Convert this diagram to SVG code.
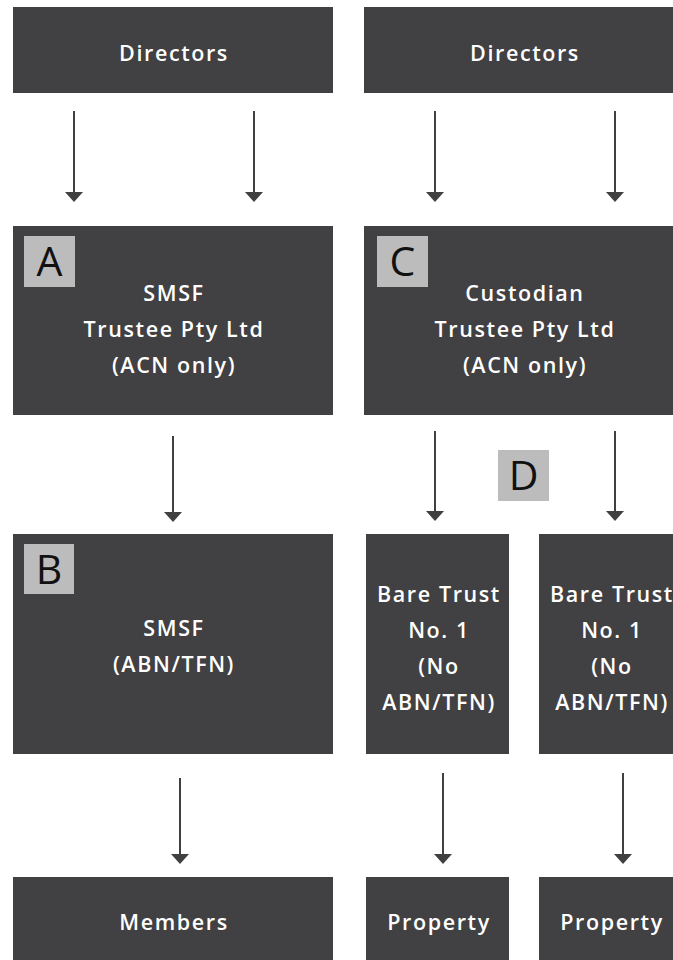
<svg xmlns="http://www.w3.org/2000/svg" width="673" height="960" viewBox="0 0 673 960">
<style>
.box{fill:#414042}
.t{font-family:"Open Sans","Liberation Sans",sans-serif;font-size:21.5px;font-weight:600;letter-spacing:1.6px;fill:#ffffff;text-anchor:middle}
.tag{fill:#bcbcbd}
.tl{font-family:"Open Sans","Liberation Sans",sans-serif;font-size:41px;font-weight:500;fill:#111111;text-anchor:middle}
.c{stroke:#404040;stroke-width:2;fill:none}
</style>
<rect width="673" height="960" fill="#ffffff"/>
<g id="connectors" fill="#404040">
<g id="e1"><line class="c" x1="74" y1="111" x2="74" y2="193"/><polygon points="65,192 83,192 74,202"/></g>
<g id="e2"><line class="c" x1="254" y1="111" x2="254" y2="193"/><polygon points="245,192 263,192 254,202"/></g>
<g id="e3"><line class="c" x1="435" y1="111" x2="435" y2="193"/><polygon points="426,192 444,192 435,202"/></g>
<g id="e4"><line class="c" x1="615" y1="111" x2="615" y2="193"/><polygon points="606,192 624,192 615,202"/></g>
<g id="e5"><line class="c" x1="173" y1="436" x2="173" y2="513"/><polygon points="164,512 182,512 173,522"/></g>
<g id="e6"><line class="c" x1="435" y1="431" x2="435" y2="512"/><polygon points="426,511 444,511 435,521"/></g>
<g id="e7"><line class="c" x1="615" y1="431" x2="615" y2="512"/><polygon points="606,511 624,511 615,521"/></g>
<g id="e8"><line class="c" x1="180" y1="778" x2="180" y2="855"/><polygon points="171,854 189,854 180,864"/></g>
<g id="e9"><line class="c" x1="443" y1="773" x2="443" y2="855"/><polygon points="434,854 452,854 443,864"/></g>
<g id="e10"><line class="c" x1="623" y1="773" x2="623" y2="855"/><polygon points="614,854 632,854 623,864"/></g>
</g>
<g id="directors1"><rect class="box" x="13" y="7" width="320" height="86"/><text class="t" x="174" y="61">Directors</text></g>
<g id="directors2"><rect class="box" x="364" y="7" width="309" height="86"/><text class="t" x="525" y="61">Directors</text></g>
<g id="smsfTrustee"><rect class="box" x="13" y="226" width="320" height="189"/>
<rect class="tag" x="24" y="236" width="51" height="51"/><text class="tl" x="49.5" y="276">A</text>
<text class="t" x="174" y="301">SMSF</text><text class="t" x="174" y="337">Trustee Pty Ltd</text><text class="t" x="174" y="373">(ACN only)</text></g>
<g id="custodian"><rect class="box" x="364" y="226" width="309" height="189"/>
<rect class="tag" x="377" y="236" width="51" height="51"/><text class="tl" x="402.5" y="276">C</text>
<text class="t" x="525" y="301">Custodian</text><text class="t" x="525" y="337">Trustee Pty Ltd</text><text class="t" x="525" y="373">(ACN only)</text></g>
<g id="labelD"><rect class="tag" x="498" y="450" width="51" height="51"/><text class="tl" x="523.5" y="490">D</text></g>
<g id="smsf"><rect class="box" x="13" y="534" width="320" height="220"/>
<rect class="tag" x="24" y="544" width="50" height="50"/><text class="tl" x="49" y="584">B</text>
<text class="t" x="174" y="636">SMSF</text><text class="t" x="174" y="672">(ABN/TFN)</text></g>
<g id="bare1"><rect class="box" x="366" y="534" width="143" height="220"/>
<text class="t" x="439" y="602">Bare Trust</text><text class="t" x="439" y="638">No. 1</text><text class="t" x="439" y="674">(No</text><text class="t" x="439" y="710">ABN/TFN)</text></g>
<g id="bare2"><rect class="box" x="539" y="534" width="144" height="220"/>
<text class="t" x="612" y="602">Bare Trust</text><text class="t" x="612" y="638">No. 1</text><text class="t" x="612" y="674">(No</text><text class="t" x="612" y="710">ABN/TFN)</text></g>
<g id="members"><rect class="box" x="13" y="877" width="320" height="83"/><text class="t" x="174" y="930">Members</text></g>
<g id="property1"><rect class="box" x="366" y="877" width="143" height="83"/><text class="t" x="439" y="930">Property</text></g>
<g id="property2"><rect class="box" x="539" y="877" width="144" height="83"/><text class="t" x="612" y="930">Property</text></g>
</svg>
